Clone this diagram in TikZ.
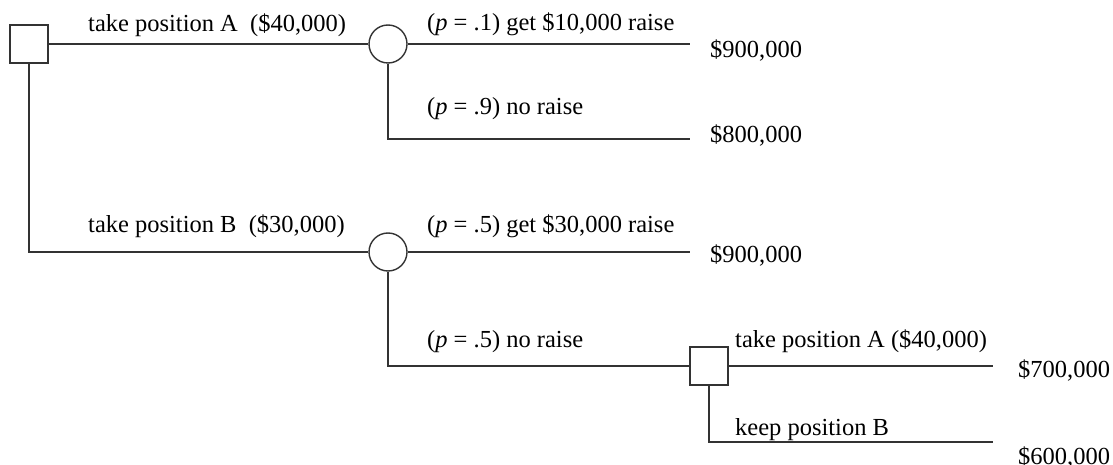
\documentclass[tikz,border=0pt]{standalone}
\usepackage{fontspec}
\setmainfont{Liberation Serif}
\begin{document}
\begin{tikzpicture}[x=1pt,y=-1pt,
  ln/.style={draw=black!80,line width=1.4pt},
  decbox/.style={draw=black!80,line width=1.4pt,minimum size=38pt,inner sep=0pt,fill=white},
  chance/.style={circle,draw=black!80,line width=1.4pt,minimum size=38pt,inner sep=0pt,fill=white},
  lbl/.style={anchor=base west,inner sep=0pt,font=\fontsize{24.5}{28}\selectfont}]
\useasboundingbox (0,0) rectangle (1113,465);
% nodes
\node[decbox] (s1) at (29,44) {};
\node[chance] (c1) at (388,44) {};
\node[chance] (c2) at (388,252) {};
\node[decbox] (s2) at (709,366) {};
\coordinate (l1) at (690,44);
\coordinate (l2) at (690,139);
\coordinate (l3) at (690,252);
\coordinate (l4) at (993,366);
\coordinate (l5) at (993,442);
% connectors
\draw[ln] (s1.east) -- (c1.west);
\draw[ln] (s1.south) |- (c2.west);
\draw[ln] (c1.east) -- (l1);
\draw[ln] (c1.south) |- (l2);
\draw[ln] (c2.east) -- (l3);
\draw[ln] (c2.south) |- (s2.west);
\draw[ln] (s2.east) -- (l4);
\draw[ln] (s2.south) |- (l5);
% labels
\node[lbl] (t1) at (88,32) {take position A\ \ (\$40,000)};
\node[lbl] (t2) at (88,233) {take position B\ \ (\$30,000)};
\node[lbl] (t3) at (427,31) {(\textit{p} = .1) get \$10,000 raise};
\node[lbl] (t4) at (427,115) {(\textit{p} = .9) no raise};
\node[lbl] (t5) at (427,232) {(\textit{p} = .5) get \$30,000 raise};
\node[lbl] (t6) at (427,347) {(\textit{p} = .5) no raise};
\node[lbl] (t7) at (735,347) {take position A (\$40,000)};
\node[lbl] (t8) at (735,435) {keep position B};
% payoffs
\node[lbl] (v1) at (710,58) {\$900,000};
\node[lbl] (v2) at (710,143) {\$800,000};
\node[lbl] (v3) at (710,262) {\$900,000};
\node[lbl] (v4) at (1018,377) {\$700,000};
\node[lbl] (v5) at (1018,464) {\$600,000};
\end{tikzpicture}
\end{document}
